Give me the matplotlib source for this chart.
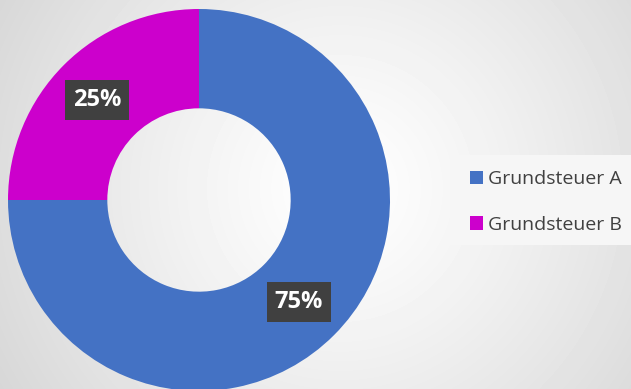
import numpy as np
import matplotlib.pyplot as plt
from matplotlib.patches import Patch, Rectangle

labels = ["Grundsteuer A", "Grundsteuer B"]
values = [75, 25]
colors = ["#4472C4", "#CC00CC"]
pct_labels = ["75%", "25%"]

W, H = 631, 389
fig = plt.figure(figsize=(W / 100, H / 100), dpi=100)
ax = fig.add_axes([0, 0, 1, 1])

# radial grey background
yy, xx = np.mgrid[0:H, 0:W]
d = np.sqrt((xx - 340) ** 2 + (yy - 200) ** 2) / 420
bg = 1 - 0.17 * np.clip(d, 0, 1) ** 1.2
ax.imshow(bg, cmap="gray", vmin=0, vmax=1, extent=(0, W, 0, H), origin="lower", zorder=0)

# legend panel
ax.add_patch(Rectangle((450, H - 245), 181, 90, facecolor="#f6f6f6", edgecolor="none", zorder=1))

cx, cy, r = 199, H - 200, 191
wedges, _ = ax.pie(values, colors=colors, startangle=90, counterclock=False,
                   center=(cx, cy), radius=r, frame=True,
                   wedgeprops=dict(width=r * 0.52, edgecolor="none"))
for w in wedges:
    w.set_zorder(2)
ax.set_xlim(0, W)
ax.set_ylim(0, H)
ax.set_aspect("equal")
ax.axis("off")

label_pos = [(299, H - 302), (97, H - 100)]
for (x, y), t in zip(label_pos, pct_labels):
    ax.text(x, y, t, ha="center", va="center", color="white", fontsize=17,
            fontweight="bold", family="Open Sans", zorder=5,
            bbox=dict(boxstyle="square,pad=0.35", facecolor="#404040", edgecolor="none"))

handles = [Patch(facecolor=c, edgecolor="none") for c in colors]
leg = ax.legend(handles, labels, loc="center left", bbox_to_anchor=(452 / W, 1 - 202 / H),
                frameon=False, prop=dict(family="Open Sans", size=14),
                handlelength=0.7, handleheight=0.7, handletextpad=0.25, labelspacing=1.4)
for t in leg.get_texts():
    t.set_color("#404040")

fig.savefig("out.png", dpi=100)
